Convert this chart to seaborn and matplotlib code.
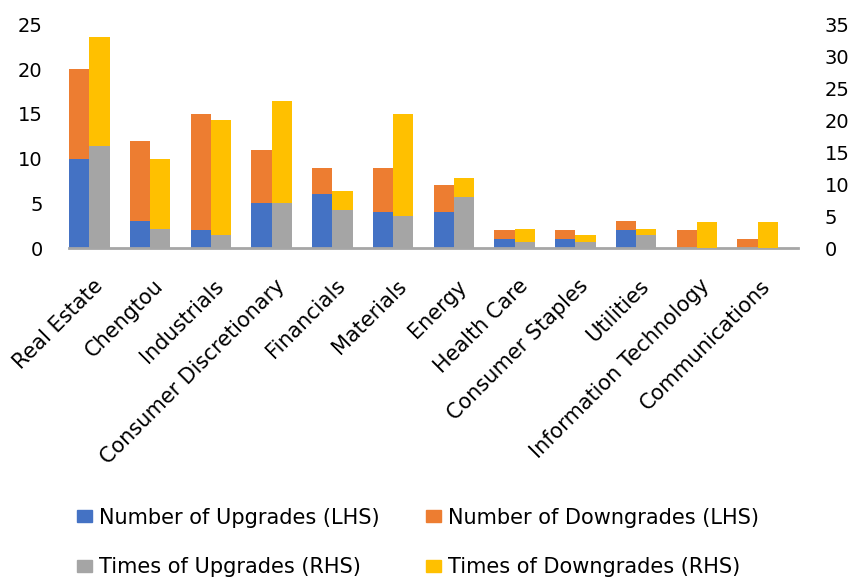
import numpy as np
import pandas as pd
import seaborn as sns
import matplotlib.pyplot as plt
from matplotlib.patches import Patch

sectors = ["Real Estate", "Chengtou", "Industrials", "Consumer Discretionary",
           "Financials", "Materials", "Energy", "Health Care", "Consumer Staples",
           "Utilities", "Information Technology", "Communications"]
num_upgrades = [10, 3, 2, 5, 6, 4, 4, 1, 1, 2, 0, 0]
num_downgrades = [10, 9, 13, 6, 3, 5, 3, 1, 1, 1, 2, 1]
times_upgrades = [16, 3, 2, 7, 6, 5, 8, 1, 1, 2, 0, 0]
times_downgrades = [17, 11, 18, 16, 3, 16, 3, 2, 1, 1, 4, 4]

BLUE, ORANGE, GRAY, YELLOW = "#4472C4", "#ED7D31", "#A5A5A5", "#FFC000"

sns.set_theme(style="white")
plt.rcParams["font.family"] = ["DejaVu Sans"]
plt.rcParams["text.color"] = "black"
plt.rcParams["xtick.labelcolor"] = "black"
plt.rcParams["ytick.labelcolor"] = "black"

n = len(sectors)
idx = np.arange(n)
df = pd.DataFrame({
    "sector": sectors,
    "pos_l": idx * 3 + 0.5,
    "pos_r": idx * 3 + 1.5,
    "up_l": num_upgrades,
    "tot_l": np.array(num_upgrades) + np.array(num_downgrades),
    "up_r": times_upgrades,
    "tot_r": np.array(times_upgrades) + np.array(times_downgrades),
})

fig = plt.figure(figsize=(8.56, 5.78), dpi=100)
ax = fig.add_axes([69 / 856, 1 - 248 / 578, (798 - 69) / 856, (248 - 24.5) / 578])
ax2 = ax.twinx()

w = 1 / 3  # relative to spacing of 3 -> one slot wide
sns.barplot(data=df, x="pos_l", y="tot_l", native_scale=True, width=w,
            color=ORANGE, saturation=1, ax=ax, linewidth=0)
sns.barplot(data=df, x="pos_l", y="up_l", native_scale=True, width=w,
            color=BLUE, saturation=1, ax=ax, linewidth=0)
sns.barplot(data=df, x="pos_r", y="tot_r", native_scale=True, width=w,
            color=YELLOW, saturation=1, ax=ax2, linewidth=0)
sns.barplot(data=df, x="pos_r", y="up_r", native_scale=True, width=w,
            color=GRAY, saturation=1, ax=ax2, linewidth=0)

ax.set_ylim(0, 25)
ax2.set_ylim(0, 35)
ax.set_yticks(range(0, 26, 5))
ax2.set_yticks(range(0, 36, 5))
ax.set_xlim(0, 3 * n)

for a in (ax, ax2):
    a.set_xlabel("")
    a.set_ylabel("")
    for s in ("left", "right", "top", "bottom"):
        a.spines[s].set_visible(False)
    a.tick_params(axis="y", length=0, labelsize=14, labelcolor="black", pad=19)

ax.spines["bottom"].set_visible(True)
ax.spines["bottom"].set_color("#A6A6A6")
ax.spines["bottom"].set_linewidth(2)
ax.spines["bottom"].set_zorder(5)

ax.set_xticks(np.arange(0, 3 * n + 1), minor=True)
ax.set_xticks(idx * 3 + 1.15)
ax.set_xticklabels(sectors, rotation=45, ha="right", rotation_mode="anchor",
                   fontsize=15, color="black")
ax.tick_params(axis="x", which="minor", length=9, width=1, color="#A6A6A6", direction="out")
ax.tick_params(axis="x", which="major", length=0, pad=20)

handles = [Patch(color=BLUE), Patch(color=GRAY), Patch(color=ORANGE), Patch(color=YELLOW)]
labels = ["Number of Upgrades (LHS)", "Times of Upgrades (RHS)",
          "Number of Downgrades (LHS)", "Times of Downgrades (RHS)"]
fig.legend(handles, labels, ncol=2, loc="upper left", bbox_to_anchor=(58 / 856, 1 - 489 / 578),
           frameon=False, fontsize=15, handlelength=0.72, handleheight=0.52,
           handletextpad=0.34, columnspacing=2.25, labelspacing=1.42, labelcolor="black")

plt.savefig("out.png", dpi=100)
